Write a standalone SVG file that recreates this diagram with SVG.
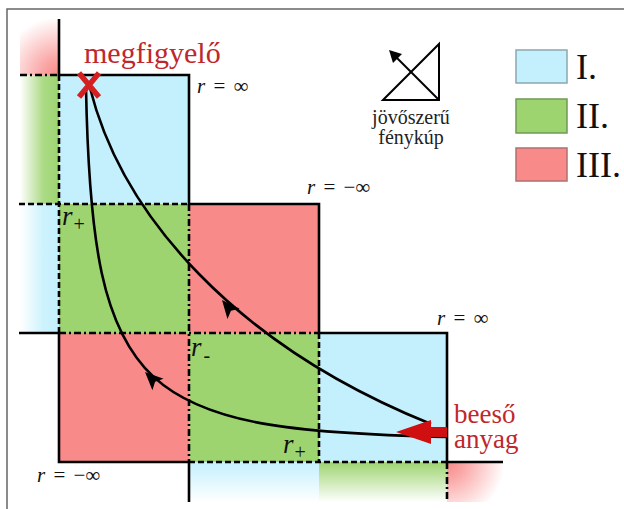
<svg xmlns="http://www.w3.org/2000/svg" width="624" height="509" viewBox="0 0 624 509">
<style>
.sol{stroke:#000;stroke-width:2.6;fill:none}
.dash{stroke:#000;stroke-width:2.6;fill:none;stroke-dasharray:6 3}
.dd{stroke:#000;stroke-width:2.6;fill:none;stroke-dasharray:7 3 2 3}
.blue{fill:#c4f0fd}
.green{fill:#9dd470}
.red{fill:#f88a89}
.curve{stroke:#000;stroke-width:2.6;fill:none}
.serif{font-family:"Liberation Serif","Times New Roman",serif}
.lab{font-family:"Liberation Serif",serif;font-size:21px;fill:#111;word-spacing:3px}
.rl{font-family:"Liberation Serif",serif;font-size:27px;font-style:italic;fill:#111}
.sub{font-family:"Liberation Serif",serif;font-size:20px;font-style:normal}
.redtxt{font-family:"Liberation Serif",serif;fill:#c0272d}
</style>
<defs>
<linearGradient id="gL" x1="20" y1="0" x2="59" y2="0" gradientUnits="userSpaceOnUse">
<stop offset="0" stop-color="#9dd470" stop-opacity="0"/><stop offset="0.6" stop-color="#9dd470" stop-opacity="0.85"/><stop offset="1" stop-color="#9dd470"/>
</linearGradient>
<linearGradient id="bL" x1="20" y1="0" x2="59" y2="0" gradientUnits="userSpaceOnUse">
<stop offset="0" stop-color="#c4f0fd" stop-opacity="0"/><stop offset="0.6" stop-color="#c4f0fd" stop-opacity="0.85"/><stop offset="1" stop-color="#c4f0fd"/>
</linearGradient>
<linearGradient id="bB" x1="0" y1="502" x2="0" y2="462" gradientUnits="userSpaceOnUse">
<stop offset="0" stop-color="#c4f0fd" stop-opacity="0"/><stop offset="1" stop-color="#c4f0fd"/>
</linearGradient>
<linearGradient id="gB" x1="0" y1="502" x2="0" y2="462" gradientUnits="userSpaceOnUse">
<stop offset="0" stop-color="#9dd470" stop-opacity="0"/><stop offset="1" stop-color="#9dd470"/>
</linearGradient>
<radialGradient id="rTL" cx="59" cy="75" r="58" gradientUnits="userSpaceOnUse">
<stop offset="0" stop-color="#f88a89"/><stop offset="0.3" stop-color="#f88a89" stop-opacity="0.75"/><stop offset="1" stop-color="#f88a89" stop-opacity="0"/>
</radialGradient>
<radialGradient id="rBR" cx="447" cy="462" r="58" gradientUnits="userSpaceOnUse">
<stop offset="0" stop-color="#f88a89"/><stop offset="0.3" stop-color="#f88a89" stop-opacity="0.75"/><stop offset="1" stop-color="#f88a89" stop-opacity="0"/>
</radialGradient>
<path id="head" d="M0,0 L-18,-8 L-14,0 L-18,8 Z" fill="#000"/>
</defs>
<rect width="624" height="509" fill="#fff"/>
<path d="M7,509 V9 H624" stroke="#666" stroke-width="1.5" fill="none"/>

<g id="regions">
<rect x="20" y="19" width="39" height="56" fill="url(#rTL)"/>
<rect x="20" y="75" width="39" height="129" fill="url(#gL)"/>
<rect x="20" y="204" width="39" height="129" fill="url(#bL)"/>
<rect x="189" y="462" width="130" height="40" fill="url(#bB)"/>
<rect x="319" y="462" width="128" height="40" fill="url(#gB)"/>
<rect x="447" y="462" width="56" height="40" fill="url(#rBR)"/>
<g id="region-blue-1"><rect class="blue" x="59" y="75" width="130" height="129"/></g>
<g id="region-green-1"><rect class="green" x="59" y="204" width="130" height="129"/></g>
<g id="region-red-1"><rect class="red" x="189" y="204" width="130" height="129"/></g>
<g id="region-red-2"><rect class="red" x="59" y="333" width="130" height="129"/></g>
<g id="region-green-2"><rect class="green" x="189" y="333" width="130" height="129"/></g>
<g id="region-blue-2"><rect class="blue" x="319" y="333" width="128" height="129"/></g>
</g>

<g id="boundaries">
<path class="sol" d="M59,19 V75 H189 V204 H319 V333 H447 V462 H503"/>
<path class="sol" d="M19,333 H59 V462 H189 V502"/>
<path class="dd" d="M20,75 H59"/>
<path class="dash" d="M59,75 V333"/>
<path class="dash" d="M19,204 H189"/>
<path class="dd" d="M189,204 V462"/>
<path class="dd" d="M59,333 H319"/>
<path class="dash" d="M319,333 V462"/>
<path class="dash" d="M189,462 H447"/>
<path class="dd" d="M447,462 V502"/>
</g>

<g id="connectors">
<path class="curve" d="M90,88 C122,215 235,345 431,424"/>
<path class="curve" d="M86,88 C92,400 140,430 447,437"/>
<use href="#head" transform="translate(222,300) rotate(-130)"/>
<use href="#head" transform="translate(145,372) rotate(-136)"/>
</g>

<g id="observer">
<path d="M79,73 L99,97 M99,73 L79,97" stroke="#d42020" stroke-width="5.5" stroke-linecap="butt"/>
<text class="redtxt" x="84" y="63" font-size="30">megfigyelő</text>
</g>

<g id="infall">
<path d="M396,432 L431,420 L431,427 L447,427 L447,437 L431,437 L431,444 Z" fill="#d01010"/>
<text class="redtxt" x="454" y="423" font-size="27">beeső</text>
<text class="redtxt" x="454" y="448" font-size="27">anyag</text>
</g>

<g id="labels">
<text class="lab" x="197" y="93"><tspan font-style="italic">r</tspan> = ∞</text>
<text class="lab" x="307" y="194"><tspan font-style="italic">r</tspan> = −∞</text>
<text class="lab" x="437" y="325"><tspan font-style="italic">r</tspan> = ∞</text>
<text class="lab" x="37" y="482"><tspan font-style="italic">r</tspan> = −∞</text>
<text class="rl" x="62" y="225">r<tspan class="sub" dx="1" dy="6">+</tspan></text>
<text class="rl" x="191" y="356">r<tspan class="sub" dx="2" dy="6">-</tspan></text>
<text class="rl" x="283" y="453">r<tspan class="sub" dx="1" dy="6">+</tspan></text>
</g>

<g id="lightcone">
<path d="M383,100 L439,44 V100 Z" fill="none" stroke="#000" stroke-width="2"/>
<path d="M439,100 L395,56" stroke="#000" stroke-width="2" fill="none"/>
<path d="M389,50 L402,54 L393,63 Z" fill="#000"/>
<text class="serif" x="411" y="124" font-size="20" text-anchor="middle" fill="#222">jövőszerű</text>
<text class="serif" x="411" y="144" font-size="20" text-anchor="middle" fill="#222">fénykúp</text>
</g>

<g id="legend">
<g id="legend-1"><rect x="516" y="50" width="51" height="33" fill="#c4f0fd" stroke="#8aa8b0" stroke-width="1.5"/><text class="serif" x="576" y="79" font-size="36" fill="#111">I.</text></g>
<g id="legend-2"><rect x="516" y="99" width="51" height="34" fill="#9dd470" stroke="#6f9a55" stroke-width="1.5"/><text class="serif" x="576" y="128" font-size="36" fill="#111">II.</text></g>
<g id="legend-3"><rect x="516" y="148" width="51" height="33" fill="#f88a89" stroke="#b07070" stroke-width="1.5"/><text class="serif" x="576" y="177" font-size="36" fill="#111">III.</text></g>
</g>
</svg>
